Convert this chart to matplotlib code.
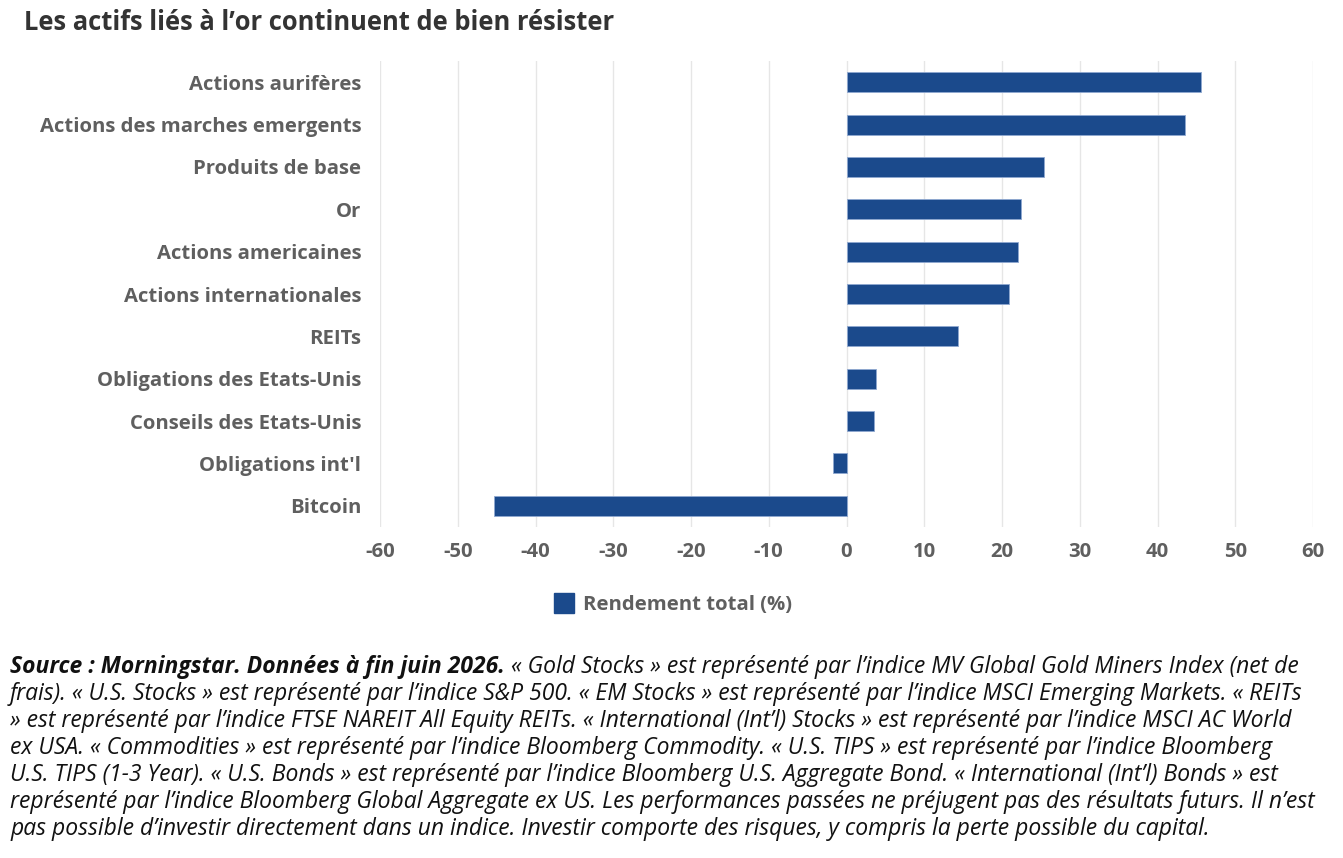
import matplotlib.pyplot as plt
from matplotlib.patches import Patch

categories = [
    "Actions aurifères",
    "Actions des marches emergents",
    "Produits de base",
    "Or",
    "Actions americaines",
    "Actions internationales",
    "REITs",
    "Obligations des Etats-Unis",
    "Conseils des Etats-Unis",
    "Obligations int'l",
    "Bitcoin",
]
rendement = [45.6, 43.5, 25.4, 22.5, 22.1, 20.9, 14.3, 3.8, 3.6, -1.8, -45.4]
xticks = [-60, -50, -40, -30, -20, -10, 0, 10, 20, 30, 40, 50, 60]

title = "Les actifs liés à l’or continuent de bien résister"
legend_label = "Rendement total (%)"
source_bold = "Source : Morningstar. Données à fin juin 2026."
footnote_lines = [
    " « Gold Stocks » est représenté par l’indice MV Global Gold Miners Index (net de",
    "frais). « U.S. Stocks » est représenté par l’indice S&P 500. « EM Stocks » est représenté par l’indice MSCI Emerging Markets. « REITs",
    "» est représenté par l’indice FTSE NAREIT All Equity REITs. « International (Int’l) Stocks » est représenté par l’indice MSCI AC World",
    "ex USA. « Commodities » est représenté par l’indice Bloomberg Commodity. « U.S. TIPS » est représenté par l’indice Bloomberg",
    "U.S. TIPS (1-3 Year). « U.S. Bonds » est représenté par l’indice Bloomberg U.S. Aggregate Bond. « International (Int’l) Bonds » est",
    "représenté par l’indice Bloomberg Global Aggregate ex US. Les performances passées ne préjugent pas des résultats futurs. Il n’est",
    "pas possible d’investir directement dans un indice. Investir comporte des risques, y compris la perte possible du capital.",
]

plt.rcParams['font.family'] = ['Open Sans', 'DejaVu Sans']
W, H = 1343, 858
fig = plt.figure(figsize=(W / 100, H / 100), dpi=100)
fig.patch.set_facecolor('white')

bar_color = '#1b4a8c'
label_color = '#5f5f5f'
fs = 14.6

# axes box in pixel terms
left, right, top, bottom = 380, 1313, 61, 527
ax = fig.add_axes([left / W, 1 - bottom / H, (right - left) / W, (bottom - top) / H])

y = list(range(len(categories)))
ax.barh(y, rendement, height=0.47, color=bar_color, edgecolor='#8fa8d0', linewidth=0.6, zorder=3)
ax.set_ylim(len(categories) - 0.5, -0.5)
ax.set_xlim(-60, 60)
ax.set_xticks(xticks)
ax.set_xticklabels([str(t) for t in xticks], fontsize=fs, fontweight='bold', color=label_color)
ax.set_yticks(y)
ax.set_yticklabels(categories, fontsize=fs, fontweight='bold', color=label_color)
ax.tick_params(axis='both', length=0)
ax.tick_params(axis='y', pad=13.5)
ax.tick_params(axis='x', pad=11)
ax.grid(axis='x', color='#e6e6e6', linewidth=1, zorder=0)
for s in ax.spines.values():
    s.set_visible(False)

fig.text(24 / W, 1 - 22 / H, title, fontsize=18.4, fontweight='bold', color='#333333',
         ha='left', va='center')

leg = fig.legend(handles=[Patch(facecolor=bar_color, edgecolor=bar_color)], labels=[legend_label],
                 loc='center', bbox_to_anchor=(673 / W, 1 - 604 / H), frameon=False,
                 handlelength=0.95, handleheight=1.1, handletextpad=0.45,
                 prop={'size': fs, 'weight': 'bold'})
for t in leg.get_texts():
    t.set_color(label_color)

# footnote: bold "Source" part, then the rest of the first line after it
note_fs = 16.5
bold_txt = fig.text(10 / W, 1 - 667 / H, source_bold, fontsize=note_fs, style='italic',
                    fontweight='bold', color='#111111', ha='left', va='center')
fig.canvas.draw()
bb = bold_txt.get_window_extent()
for i, line in enumerate(footnote_lines):
    x0 = bb.x1 / W if i == 0 else 10 / W
    fig.text(x0, 1 - (667 + 27 * i) / H, line, fontsize=note_fs, style='italic',
             color='#111111', ha='left', va='center')

fig.savefig('out.png', dpi=100)
